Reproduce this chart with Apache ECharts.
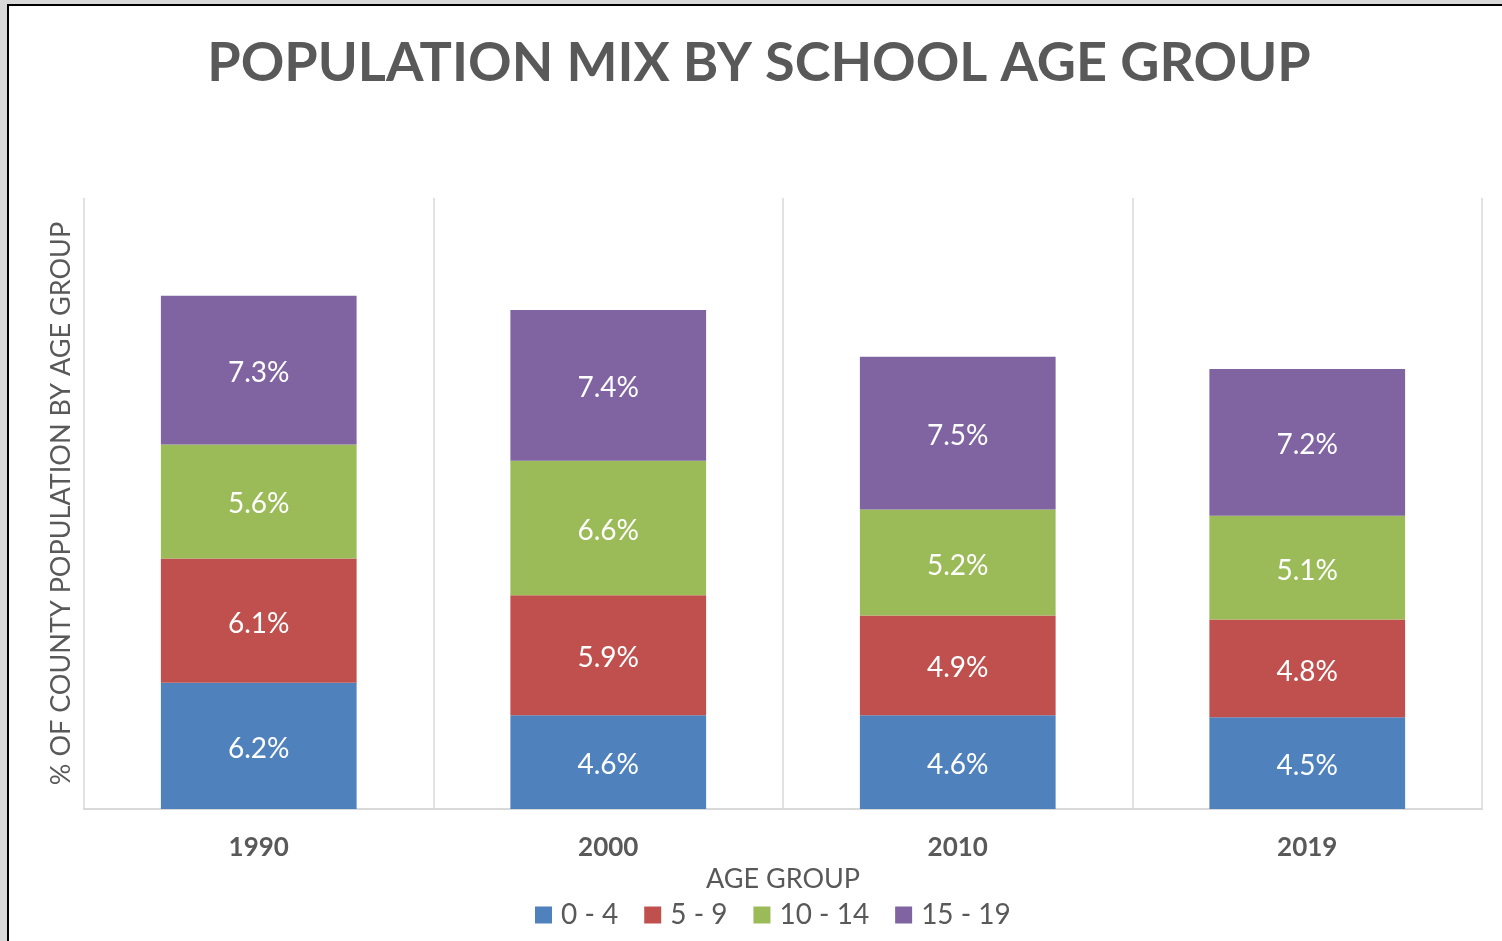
<!DOCTYPE html>
<html>
<head>
<meta charset="utf-8">
<script src="https://cdn.jsdelivr.net/npm/echarts@6/dist/echarts.min.js"></script>
<style>
  html, body { margin: 0; padding: 0; background: #d9d9d9; overflow: hidden; }
  #chart {
    position: absolute; left: 7px; top: 4px;
    width: 1500px; height: 940px;
    background: #fff;
    border-left: 2px solid #000; border-top: 2px solid #000;
  }
</style>
</head>
<body>
<div id="chart"></div>
<script>
const years = ['1990', '2000', '2010', '2019']
const ageGroups = ['0 - 4', '5 - 9', '10 - 14', '15 - 19']
const age0to4 = [6.2, 4.6, 4.6, 4.5]
const age5to9 = [6.1, 5.9, 4.9, 4.8]
const age10to14 = [5.6, 6.6, 5.2, 5.1]
const age15to19 = [7.3, 7.4, 7.5, 7.2]

const seriesValues = [age0to4, age5to9, age10to14, age15to19]
const colors = ['#4F81BD', '#C0504D', '#9BBB59', '#8064A2']
const font = 'Lato'
const gray = '#595959'

const chart = echarts.init(document.getElementById('chart'))

chart.setOption({
  color: colors,
  animation: false,
  title: {
    text: 'POPULATION MIX BY SCHOOL AGE GROUP',
    left: 'center',
    top: 26,
    textStyle: { fontFamily: font, fontSize: 54, fontWeight: 'bold', color: gray },
  },
  legend: {
    data: ageGroups,
    top: 890,
    left: 521,
    icon: 'rect',
    itemWidth: 17,
    itemHeight: 17,
    itemGap: 26,
    textStyle: { fontFamily: font, fontSize: 28, color: gray, padding: [0, 0, 0, 4] },
  },
  grid: { left: 75, top: 192, width: 1398, height: 611 },
  xAxis: {
    type: 'category',
    data: years,
    name: 'AGE GROUP',
    nameLocation: 'middle',
    nameGap: 51,
    nameTextStyle: { fontFamily: font, fontSize: 27, color: gray },
    axisLine: { lineStyle: { color: '#d9d9d9', width: 2 } },
    axisTick: { show: false },
    axisLabel: { margin: 26, fontFamily: font, fontSize: 26, fontWeight: 'bold', color: gray },
    splitLine: { show: true, interval: 0, lineStyle: { color: '#d9d9d9', width: 1.5 } },
  },
  yAxis: {
    type: 'value',
    min: 0,
    max: 30,
    name: '% OF COUNTY POPULATION BY AGE GROUP',
    nameLocation: 'middle',
    nameRotate: 90,
    nameGap: 9,
    nameTextStyle: { fontFamily: font, fontSize: 27, color: gray },
    axisLine: { show: false },
    axisTick: { show: false },
    axisLabel: { show: false },
    splitLine: { show: false },
  },
  series: ageGroups.map((name, i) => ({
    name,
    type: 'bar',
    stack: 'total',
    barWidth: '56%',
    data: seriesValues[i],
    label: {
      show: true,
      position: 'inside',
      offset: [0, 3],
      color: '#fff',
      fontFamily: font,
      fontSize: 28,
      formatter: p => p.value.toFixed(1) + '%',
    },
  })),
})
</script>
</body>
</html>
